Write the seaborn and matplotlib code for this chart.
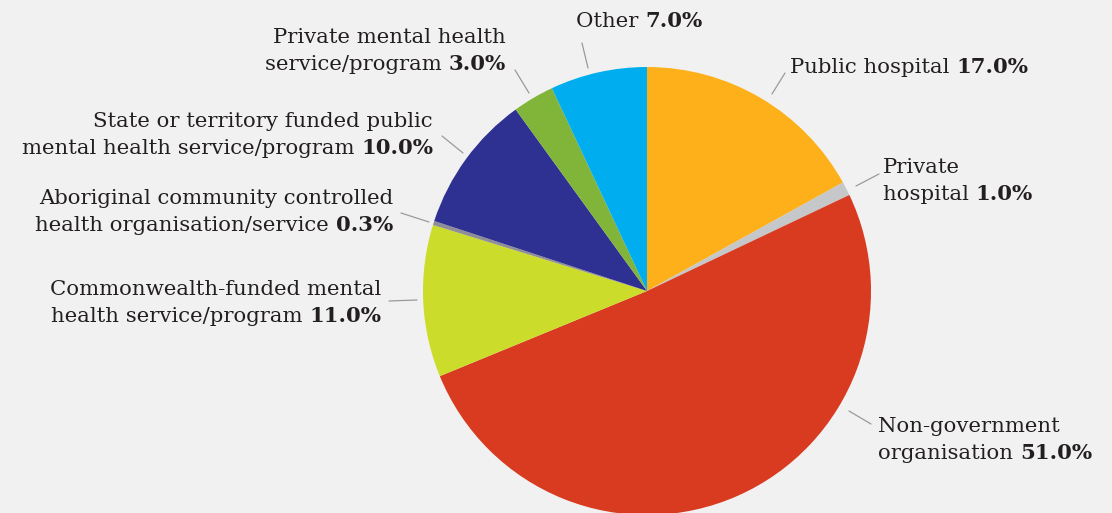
import matplotlib
matplotlib.use("Agg")
import matplotlib.pyplot as plt
import seaborn as sns

# slices, clockwise from 12 o'clock
labels = ["Public hospital", "Private hospital", "Non-government organisation",
          "Commonwealth-funded mental health service/program",
          "Aboriginal community controlled health organisation/service",
          "State or territory funded public mental health service/program",
          "Private mental health service/program", "Other"]
shares = [17.0, 1.0, 51.0, 11.0, 0.3, 10.0, 3.0, 7.0]
colors = ["#FDB01A", "#C6C7C9", "#D93B20", "#CCDC2B", "#8E8E96", "#2E3192", "#80B53A", "#00AEEF"]

# how each label is broken into lines (last line gets the bold value)
label_lines = [["Public hospital"], ["Private", "hospital"], ["Non-government", "organisation"],
               ["Commonwealth-funded mental", "health service/program"],
               ["Aboriginal community controlled", "health organisation/service"],
               ["State or territory funded public", "mental health service/program"],
               ["Private mental health", "service/program"], ["Other"]]

# layout (pixel coords, y from top): anchor x, first baseline, align, leader start/end
layout = [
    (790, 73, "left", (785, 73), (772, 94)),
    (883, 173, "left", (879, 174), (856, 186)),
    (878, 432, "left", (871, 424), (849, 411)),
    (381, 295, "right", (389, 301), (417, 300)),
    (393, 204, "right", (401, 213), (429, 222)),
    (433, 127, "right", (442, 136), (463, 153)),
    (506, 43, "right", (515, 70), (529, 93)),
    (576, 27, "left", (582, 43), (588, 68)),
]

W, H = 1112, 513
BG = "#F1F1F1"
TXT = "#231F20"

sns.set_style("white", {"axes.facecolor": BG, "figure.facecolor": BG})
plt.rcParams["font.family"] = ["DejaVu Serif"]

fig = plt.figure(figsize=(W / 100, H / 100), dpi=100)
ax = fig.add_axes([0, 0, 1, 1])

ax.pie(shares, colors=colors, startangle=90, counterclock=False,
       center=(647, H - 291), radius=224, wedgeprops=dict(linewidth=0),
       frame=True)
ax.set_xlim(0, W)
ax.set_ylim(0, H)
ax.set_aspect("equal")
ax.axis("off")

fs = 15.3
lh = 27
renderer = fig.canvas.get_renderer()

for lines, val, (x, yb, ha, p0, p1) in zip(label_lines, shares, layout):
    pct = f"{val:.1f}%"
    for i, line in enumerate(lines):
        y = H - (yb + i * lh)
        last = i == len(lines) - 1
        if not last:
            ax.text(x, y, line, ha=ha, va="baseline", fontsize=fs, color=TXT)
            continue
        if ha == "left":
            t = ax.text(x, y, line + " ", ha="left", va="baseline", fontsize=fs, color=TXT)
            bb = t.get_window_extent(renderer)
            ax.text(bb.x1, y, pct, ha="left", va="baseline", fontsize=fs,
                    fontweight="bold", color=TXT)
        else:
            b = ax.text(x, y, pct, ha="right", va="baseline", fontsize=fs,
                        fontweight="bold", color=TXT)
            bb = b.get_window_extent(renderer)
            ax.text(bb.x0, y, line + " ", ha="right", va="baseline", fontsize=fs, color=TXT)
    ax.plot([p0[0], p1[0]], [H - p0[1], H - p1[1]], color="#9A9A9A", lw=0.9)

fig.savefig("out.png", dpi=100, facecolor=BG)
